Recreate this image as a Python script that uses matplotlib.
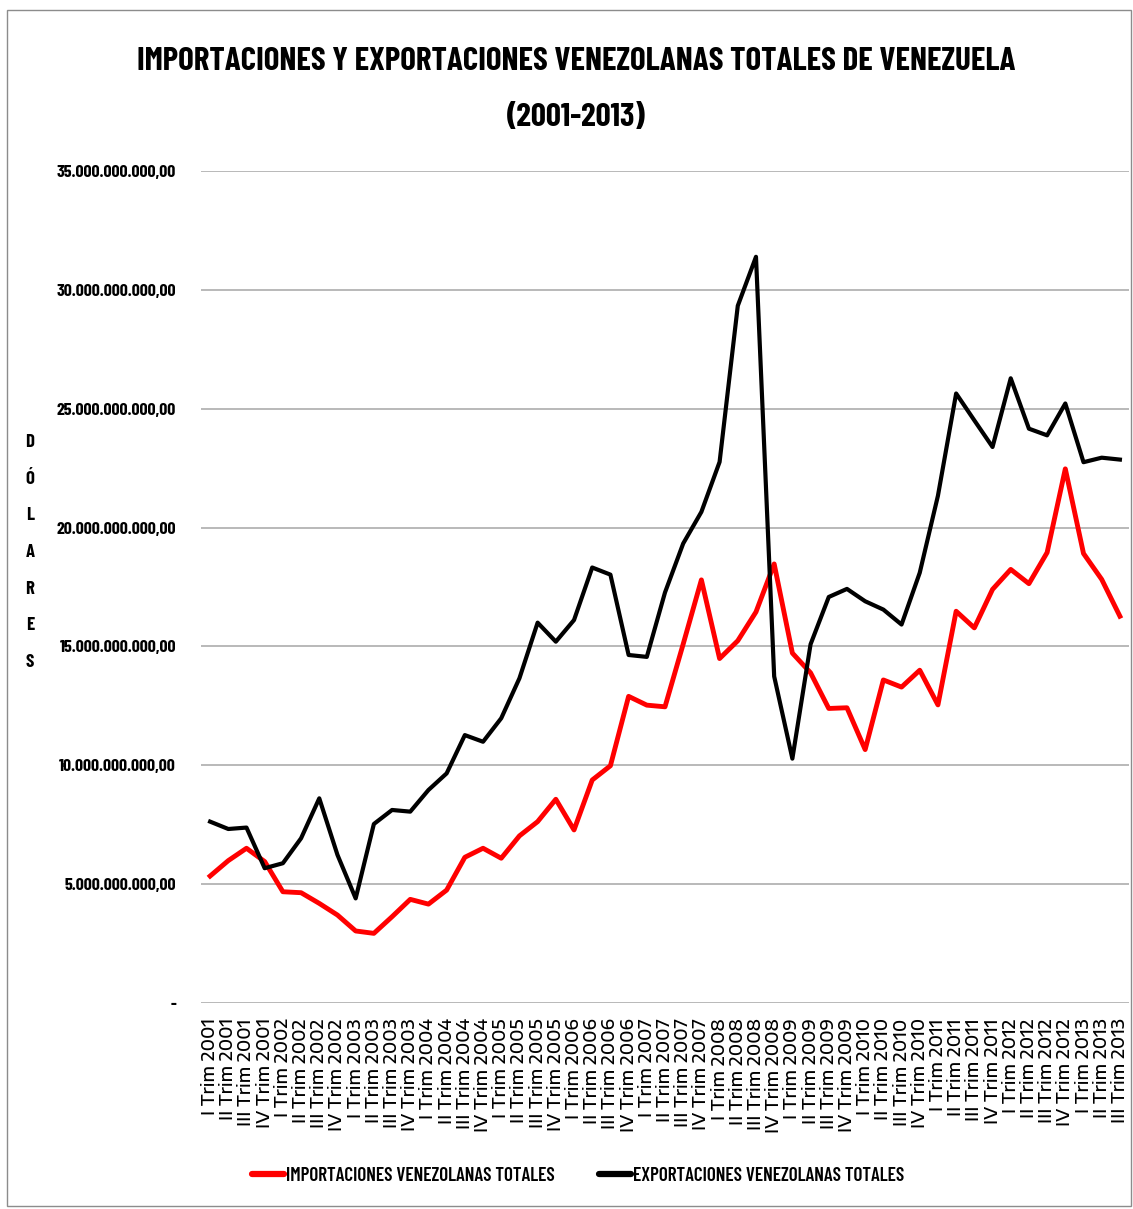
import matplotlib.pyplot as plt
from matplotlib.patches import Rectangle
from matplotlib.ticker import FuncFormatter

years = list(range(2001, 2014))
roman = ["I", "II", "III", "IV"]
labels = [f"{r} Trim {y}" for y in years for r in roman][:51]

# miles de millones de USD
importaciones = [
    5.34, 5.99, 6.51, 5.95,
    4.68, 4.64, 4.19, 3.70,
    3.03, 2.93, 3.63, 4.36,
    4.16, 4.75, 6.13, 6.51,
    6.09, 7.03, 7.63, 8.57,
    7.28, 9.38, 9.98, 12.90,
    12.53, 12.46, 15.10, 17.80,
    14.49, 15.24, 16.45, 18.47,
    14.72, 13.89, 12.39, 12.42,
    10.66, 13.59, 13.29, 14.00,
    12.54, 16.48, 15.78, 17.40,
    18.24, 17.64, 18.95, 22.47,
    18.91, 17.82, 16.27,
]
exportaciones = [
    7.63, 7.32, 7.38, 5.67,
    5.88, 6.93, 8.61, 6.23,
    4.40, 7.53, 8.12, 8.05,
    8.96, 9.66, 11.27, 10.99,
    11.98, 13.66, 16.00, 15.20,
    16.11, 18.32, 18.02, 14.64,
    14.56, 17.27, 19.33, 20.66,
    22.76, 29.33, 31.39, 13.74,
    10.28, 15.09, 17.08, 17.42,
    16.90, 16.55, 15.92, 18.10,
    21.34, 25.64, 24.51, 23.39,
    26.28, 24.16, 23.88, 25.22,
    22.75, 22.94, 22.86,
]

cond = ["Barlow Condensed", "DejaVu Sans"]
wide = ["Encode Sans Expanded", "DejaVu Sans"]
title1 = "IMPORTACIONES Y EXPORTACIONES VENEZOLANAS TOTALES DE VENEZUELA"


def fmt(v, pos):
    if v == 0:
        return "-"
    s = f"{v:,.2f}"
    return s.replace(",", "X").replace(".", ",").replace("X", ".")


fig = plt.figure(figsize=(11.33, 12.09), dpi=100)
W, H = 1133, 1209


def fit_size(text, px, family, weight):
    # font size that makes the text px pixels long
    t = fig.text(0, 0, text, family=family, fontweight=weight, fontsize=20)
    w = t.get_window_extent(fig.canvas.get_renderer()).width
    t.remove()
    return 20 * px / w


title_fs = fit_size(title1, 879, cond, "bold")
ytick_fs = fit_size("35.000.000.000,00", 120, cond, "bold")
xtick_fs = fit_size("I Trim 2001", 97, wide, 500)
leg_fs = fit_size("IMPORTACIONES VENEZOLANAS TOTALES", 270, cond, 600)

ax = fig.add_axes([201 / W, 1 - 1003 / H, 928 / W, (1003 - 171) / H])

x = range(len(labels))
ax.plot(x, [v * 1e9 for v in importaciones], color="#FF0000", lw=3.5,
        label="IMPORTACIONES VENEZOLANAS TOTALES")
ax.plot(x, [v * 1e9 for v in exportaciones], color="black", lw=3.0,
        label="EXPORTACIONES VENEZOLANAS TOTALES")

ax.set_xlim(-0.5, len(labels) - 0.5)
ax.set_ylim(0, 35e9)
ax.set_yticks([i * 5e9 for i in range(8)])
ax.yaxis.set_major_formatter(FuncFormatter(fmt))
ax.grid(axis="y", color="#A6A6A6", lw=1.1)
ax.set_axisbelow(True)
for s in ax.spines.values():
    s.set_visible(False)
ax.tick_params(axis="y", length=0, pad=18, labelsize=ytick_fs)
ax.tick_params(axis="x", length=0, pad=11)
for t in ax.get_yticklabels():
    t.set_family(cond)
    t.set_fontweight("bold")
ax.set_xticks(list(x))
ax.set_xticklabels(labels, rotation=90, fontsize=xtick_fs, family=wide, fontweight=500)

fig.text(576.5 / W, 1 - 70 / H, title1, ha="center", va="baseline",
         fontsize=title_fs, fontweight="bold", family=cond)
fig.text(576.5 / W, 1 - 126 / H, "(2001-2013)", ha="center", va="baseline",
         fontsize=title_fs, fontweight="bold", family=cond)
for i, ch in enumerate("DÓLARES"):
    fig.text(30 / W, 1 - (447 + i * 36.7) / H, ch, ha="center", va="baseline",
             fontsize=13.5, fontweight="bold", family=cond)

leg_px = leg_fs * 100 / 72
leg = fig.legend(loc="center", bbox_to_anchor=(578 / W, 1 - 1176 / H), ncol=2, frameon=False,
                 prop={"family": cond, "size": leg_fs, "weight": 600},
                 handlelength=32 / leg_px, handletextpad=2 / leg_px, columnspacing=44 / leg_px)
for ln in leg.get_lines():
    ln.set_linewidth(4.5)
    ln.set_solid_capstyle("round")

fig.patches.append(Rectangle((7 / W, 3 / H), 1124 / W, 1196 / H,
                             transform=fig.transFigure, fill=False, edgecolor="#8C8C8C", lw=1))

fig.savefig("out.png", dpi=100)
